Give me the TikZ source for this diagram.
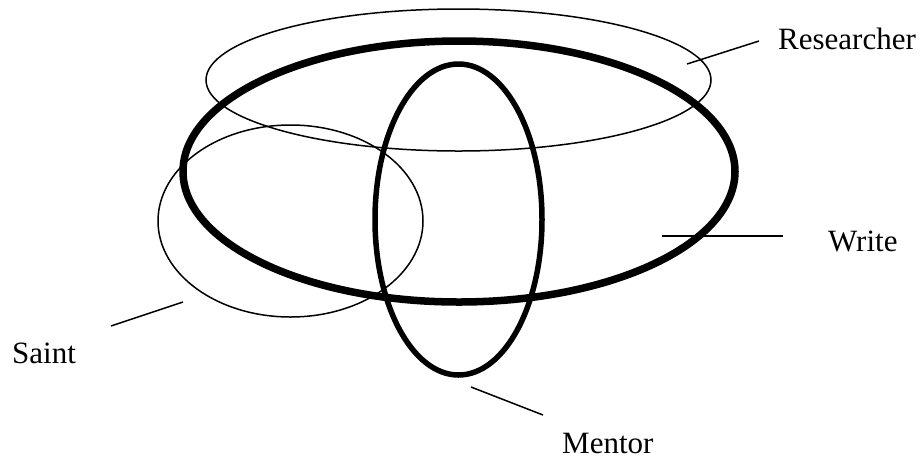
\documentclass[tikz,border=0pt]{standalone}
\usepackage{fontspec}
\setmainfont{Liberation Serif}
\begin{document}
\begin{tikzpicture}[x=1pt,y=-1pt,
  thinring/.style={draw=black,line width=1.5pt},
  midring/.style={draw=black,line width=5.5pt},
  thickring/.style={draw=black,line width=7.5pt},
  leader/.style={draw=black,line width=1.5pt},
  lbl/.style={anchor=base west,inner sep=0pt,font=\fontsize{31}{36}\selectfont}]
\useasboundingbox (0,0) rectangle (924,459);
% rings
\draw[thinring] (458.5,80) ellipse [x radius=252.5, y radius=71];
\draw[thinring] (290.5,221) ellipse [x radius=132.5, y radius=96];
\draw[thickring] (459,171.5) ellipse [x radius=276, y radius=130.5];
\draw[midring] (458.5,219.5) ellipse [x radius=83.5, y radius=155.5];
% labels
\node[lbl] (researcher) at (778,49) {Researcher};
\node[lbl] (write) at (828,251) {Write};
\node[lbl] (saint) at (12,363) {Saint};
\node[lbl] (mentor) at (562,453) {Mentor};
% leader end points
\coordinate (rA) at (687,64);  \coordinate (rB) at (759,41);
\coordinate (wA) at (662,236); \coordinate (wB) at (783,236);
\coordinate (sA) at (111,326); \coordinate (sB) at (183,302);
\coordinate (mA) at (471,387); \coordinate (mB) at (543,415);
\draw[leader] (rA) -- (rB);
\draw[leader] (wA) -- (wB);
\draw[leader] (sA) -- (sB);
\draw[leader] (mA) -- (mB);
\end{tikzpicture}
\end{document}
